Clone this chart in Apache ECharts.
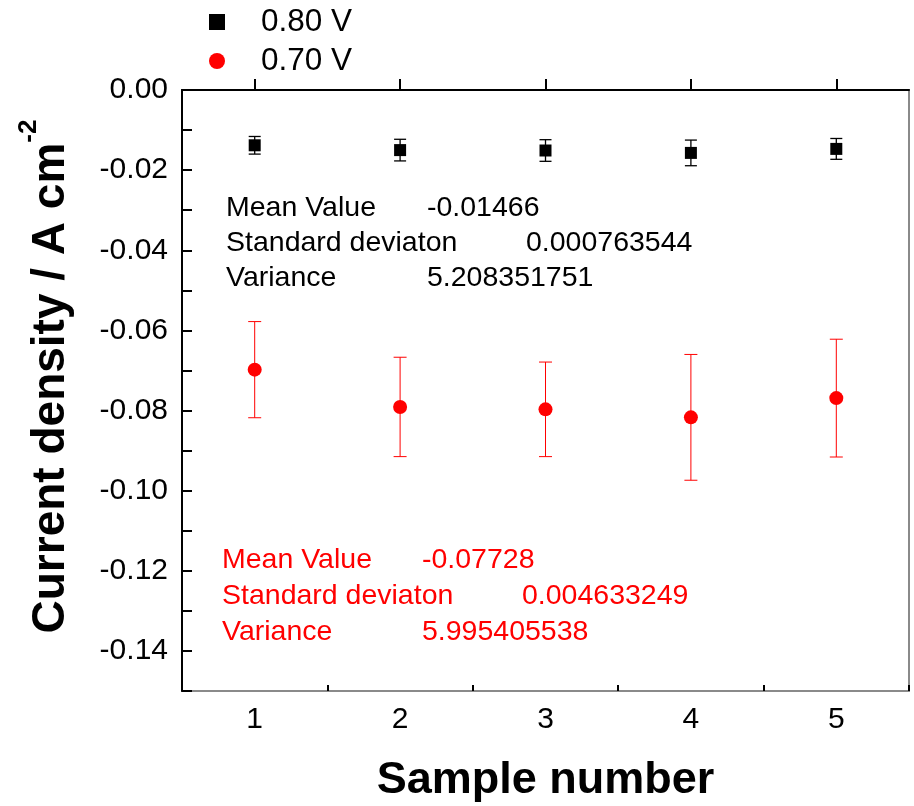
<!DOCTYPE html>
<html>
<head>
<meta charset="utf-8">
<script src="https://cdn.jsdelivr.net/npm/echarts@6/dist/echarts.min.js"></script>
<style>
  html, body { margin: 0; padding: 0; background: #fff; }
  #chart { width: 914px; height: 806px; }
</style>
</head>
<body>
<div id="chart"></div>
<script>
// Sample numbers and measured current densities (A cm^-2) with their error ranges
const samples = ['1', '2', '3', '4', '5'];
const seriesNames = ['0.80 V', '0.70 V'];
const density080 = [-0.0138, -0.0150, -0.0151, -0.0157, -0.0147];
const error080 = [0.0022, 0.0027, 0.0027, 0.0032, 0.0026];
const density070 = [-0.0698, -0.0791, -0.0797, -0.0817, -0.0769];
const error070 = [0.0120, 0.0124, 0.0118, 0.0157, 0.0147];

// Summary statistics printed inside the plot
const statNames = ['Mean Value', 'Standard deviaton', 'Variance'];
const stats080 = ['-0.01466', '0.000763544', '5.208351751'];
const stats070 = ['-0.07728', '0.004633249', '5.995405538'];

// Y axis range and tick step
const yMin = -0.15, yMax = 0, yStep = 0.01;

const FONT = "'Liberation Sans', Arial, sans-serif";

function errorBars(name, values, errors, color, capWidth, lineWidth) {
  return {
    type: 'custom',
    name: name,
    xAxisIndex: 0,
    yAxisIndex: 0,
    z: 2,
    silent: true,
    data: values.map((v, i) => [i, v - errors[i], v + errors[i]]),
    renderItem(params, api) {
      const lo = api.coord([api.value(0), api.value(1)]);
      const hi = api.coord([api.value(0), api.value(2)]);
      const h = capWidth / 2;
      const style = { stroke: color, lineWidth: lineWidth };
      return {
        type: 'group',
        children: [
          { type: 'line', shape: { x1: lo[0], y1: lo[1], x2: hi[0], y2: hi[1] }, style },
          { type: 'line', shape: { x1: lo[0] - h, y1: lo[1], x2: lo[0] + h, y2: lo[1] }, style },
          { type: 'line', shape: { x1: hi[0] - h, y1: hi[1], x2: hi[0] + h, y2: hi[1] }, style }
        ]
      };
    }
  };
}

function statBlock(values, color, labelX, valueXs, rowYs) {
  const items = [];
  statNames.forEach((label, i) => {
    items.push({
      type: 'text', left: labelX, top: rowYs[i] - 16, z: 10,
      style: { text: label, font: '28.5px ' + FONT, fill: color }
    });
    items.push({
      type: 'text', left: valueXs[i], top: rowYs[i] - 16, z: 10,
      style: { text: values[i], font: '28.5px ' + FONT, fill: color }
    });
  });
  return items;
}

const chart = echarts.init(document.getElementById('chart'), null, { renderer: 'canvas' });

chart.setOption({
  animation: false,
  backgroundColor: '#ffffff',
  textStyle: { fontFamily: FONT },
  grid: {
    left: 182, right: 5, top: 90, bottom: 115,
    outerBoundsMode: 'none',
    containLabel: false,
    show: true, borderColor: '#8a8a8a', borderWidth: 2, backgroundColor: 'transparent'
  },
  legend: {
    orient: 'vertical',
    left: 209,
    top: 6,
    padding: 0,
    itemWidth: 16,
    itemHeight: 16,
    itemGap: 7,
    textStyle: { fontSize: 31.5, color: '#000', fontFamily: FONT, lineHeight: 31, padding: [0, 0, 0, 31] },
    data: [
      { name: seriesNames[0], icon: 'rect' },
      { name: seriesNames[1], icon: 'circle' }
    ]
  },
  xAxis: [
    {
      type: 'category',
      data: samples,
      boundaryGap: true,
      name: 'Sample number',
      nameLocation: 'middle',
      nameGap: 67,
      nameTextStyle: { fontSize: 45, fontWeight: 'bold', color: '#000', fontFamily: FONT },
      axisLine: { show: true, lineStyle: { color: '#000', width: 2 } },
      axisTick: { show: true, inside: true, alignWithLabel: true, length: 11, lineStyle: { color: '#000', width: 2 } },
      axisLabel: { fontSize: 30, color: '#000', margin: 14, fontFamily: FONT },
      splitLine: { show: false }
    },
    {
      type: 'category',
      data: samples,
      boundaryGap: true,
      position: 'bottom',
      axisLine: { show: false },
      axisTick: { show: true, inside: true, length: 6, lineStyle: { color: '#000', width: 2 } },
      axisLabel: { show: false },
      splitLine: { show: false }
    }
  ],
  yAxis: {
    type: 'value',
    min: yMin,
    max: yMax,
    interval: yStep,
    name: '{pad|}{main|Current density / A cm}{sup|-2}',
    nameLocation: 'middle',
    nameRotate: 90,
    nameGap: 96,
    nameTextStyle: {
      rich: {
        pad: { width: 28 },
        main: { fontSize: 46, fontWeight: 'bold', color: '#000', fontFamily: FONT, lineHeight: 70 },
        sup: { fontSize: 26, fontWeight: 'bold', color: '#000', fontFamily: FONT, verticalAlign: 'top', lineHeight: 26 }
      }
    },
    axisLine: { show: true, lineStyle: { color: '#000', width: 2 } },
    axisTick: { show: true, inside: true, length: 10, lineStyle: { color: '#000', width: 2 } },
    axisLabel: {
      fontSize: 30, color: '#000', margin: 14, fontFamily: FONT,
      formatter: v => (Math.round(Math.abs(v) * 100) % 2 === 0 ? v.toFixed(2) : '')
    },
    splitLine: { show: false }
  },
  series: [
    {
      type: 'scatter',
      name: seriesNames[0],
      symbol: 'rect',
      symbolSize: 12,
      z: 3,
      itemStyle: { color: '#000', opacity: 1 },
      data: density080.map((v, i) => [i, v])
    },
    {
      type: 'scatter',
      name: seriesNames[1],
      symbol: 'circle',
      symbolSize: 14,
      z: 3,
      itemStyle: { color: '#ff0000', opacity: 1 },
      data: density070.map((v, i) => [i, v])
    },
    errorBars(seriesNames[0], density080, error080, '#000', 12, 1.3),
    errorBars(seriesNames[1], density070, error070, '#ff0000', 13, 1)
  ],
  graphic: [
    ...statBlock(stats080, '#000', 226, [427, 526, 427], [210, 245, 280]),
    ...statBlock(stats070, '#ff0000', 222, [422, 522, 422], [562, 598, 634])
  ]
});
</script>
</body>
</html>
